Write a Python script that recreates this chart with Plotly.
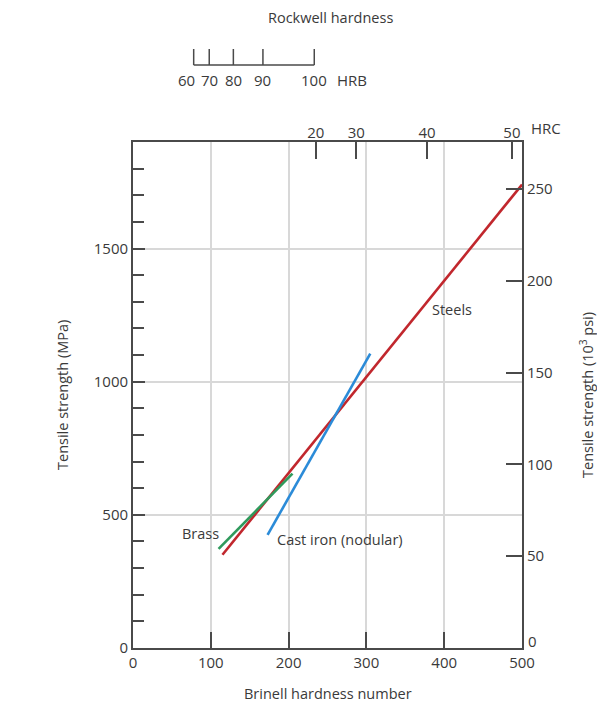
import plotly.graph_objects as go

# ---- data ----
steels_hb = [115, 500]
steels_mpa = [350, 1740]
cast_hb = [173, 305]
cast_mpa = [425, 1105]
brass_hb = [110, 205]
brass_mpa = [372, 655]

hrc_vals = [20, 30, 40, 50]
hrc_hb = [235, 287, 378, 487]
hrb_vals = [60, 70, 80, 90, 100]
hrb_hb = [78, 98, 129, 167, 233]

x_ticks = [0, 100, 200, 300, 400, 500]
mpa_ticks = [0, 500, 1000, 1500]
ksi_ticks = [0, 50, 100, 150, 200, 250]
MPA_MAX = 1900
MPA_PER_KSI = 6.895

FONT = "Open Sans"
TXT = "#3a3a3a"
AX = "#4a4a4a"
GRID = "#d8d8d8"
TICK_SIZE = 15
TITLE_SIZE = 14.5

# layout geometry (pixels)
PLOT_H = 718 - 10 - 70


def py(px_from_top):
    return (718 - 70 - px_from_top) / PLOT_H


def px_x(px):
    return (px - 133) / 389


fig = go.Figure()
fig.add_trace(go.Scatter(x=steels_hb, y=steels_mpa, mode="lines",
                         line=dict(color="#c1272d", width=2.6), showlegend=False, hoverinfo="skip"))
fig.add_trace(go.Scatter(x=brass_hb, y=brass_mpa, mode="lines",
                         line=dict(color="#2f9a5c", width=2.6), showlegend=False, hoverinfo="skip"))
fig.add_trace(go.Scatter(x=cast_hb, y=cast_mpa, mode="lines",
                         line=dict(color="#2b8bd8", width=2.6), showlegend=False, hoverinfo="skip"))
# dummy traces to activate secondary axes
fig.add_trace(go.Scatter(x=[None], y=[None], xaxis="x2", yaxis="y", showlegend=False, hoverinfo="skip"))
fig.add_trace(go.Scatter(x=[None], y=[None], xaxis="x", yaxis="y2", showlegend=False, hoverinfo="skip"))

# right-axis labels: the "0" is drawn separately, a little higher (as in the original)
ksi_text = ["" if v == 0 else str(v) for v in ksi_ticks]

fig.update_layout(
    width=597, height=718,
    margin=dict(l=133, r=75, t=10, b=70),
    paper_bgcolor="white", plot_bgcolor="white",
    font=dict(family=FONT, size=TICK_SIZE, color=TXT),
    xaxis=dict(domain=[0, 1], range=[0, 500], tickvals=x_ticks,
               showgrid=True, gridcolor=GRID, gridwidth=1.5,
               showline=True, linecolor=AX, linewidth=1.8, mirror=True,
               ticks="inside", ticklen=16, tickcolor=AX, tickwidth=1.5,
               zeroline=False, tickfont=dict(size=TICK_SIZE, color=TXT)),
    xaxis2=dict(overlaying="x", side="top", anchor="y", range=[0, 500],
                tickvals=hrc_hb, ticktext=[str(v) for v in hrc_vals],
                ticks="inside", ticklen=17, tickcolor=AX, tickwidth=1.8,
                showgrid=False, showline=False, zeroline=False,
                tickfont=dict(size=TICK_SIZE, color=TXT)),
    yaxis=dict(domain=[0, py(142)], range=[0, MPA_MAX], tickvals=mpa_ticks,
               showgrid=True, gridcolor=GRID, gridwidth=1.5,
               showline=True, linecolor=AX, linewidth=1.8,
               ticks="inside", ticklen=12, tickcolor=AX, tickwidth=1.5,
               minor=dict(dtick=100, ticks="inside", ticklen=11, tickcolor=AX, tickwidth=1.5, showgrid=False),
               zeroline=False, tickfont=dict(size=TICK_SIZE, color=TXT)),
    yaxis2=dict(overlaying="y", side="right", anchor="x", range=[0, MPA_MAX / MPA_PER_KSI],
                tickvals=ksi_ticks, ticktext=ksi_text, showgrid=False,
                showline=True, linecolor=AX, linewidth=1.8,
                ticks="inside", ticklen=16, tickcolor=AX, tickwidth=1.5,
                zeroline=False, tickfont=dict(size=TICK_SIZE, color=TXT)),
)

# ---- HRB scale (drawn with shapes on the Brinell x scale) ----
hrb_line_y = py(65)
hrb_tick_top = py(49)
shapes = [dict(type="line", xref="x", yref="paper", x0=hrb_hb[0], x1=hrb_hb[-1],
               y0=hrb_line_y, y1=hrb_line_y, line=dict(color=AX, width=1.5))]
for hb in hrb_hb:
    shapes.append(dict(type="line", xref="x", yref="paper", x0=hb, x1=hb,
                       y0=hrb_line_y, y1=hrb_tick_top, line=dict(color=AX, width=1.5)))
fig.update_layout(shapes=shapes)

C = dict(xanchor="center", yanchor="middle", showarrow=False)

ann = []
for i, (hb, v) in enumerate(zip(hrb_hb, hrb_vals)):
    ann.append(dict(text=str(v), xref="x", yref="paper", x=hb, y=py(80),
                    xshift=-7 if i == 0 else 0, font=dict(size=TICK_SIZE), **C))

ann += [
    dict(text="HRB", xref="paper", yref="paper", x=px_x(352), y=py(80), font=dict(size=TICK_SIZE), **C),
    dict(text="Rockwell hardness", xref="paper", yref="paper", x=px_x(330), y=py(18),
         font=dict(size=TITLE_SIZE), **C),
    dict(text="HRC", xref="paper", yref="paper", x=px_x(546), y=py(128), font=dict(size=TICK_SIZE), **C),
    dict(text=str(ksi_ticks[0]), xref="paper", yref="y2", x=px_x(532), y=ksi_ticks[0], yshift=7,
         font=dict(size=TICK_SIZE), **C),
    dict(text="Tensile strength (MPa)", xref="paper", yref="paper", x=px_x(62), y=py(395),
         textangle=-90, font=dict(size=TITLE_SIZE), **C),
    dict(text="Tensile strength (10<sup>3</sup> psi)", xref="paper", yref="paper", x=px_x(586),
         y=py(395), textangle=-90, font=dict(size=TITLE_SIZE), **C),
    dict(text="Brinell hardness number", xref="paper", yref="paper", x=px_x(328), y=py(693),
         font=dict(size=TITLE_SIZE), **C),
    dict(text="Steels", xref="x", yref="y", x=410, y=1271, font=dict(size=TITLE_SIZE), **C),
    dict(text="Brass", xref="x", yref="y", x=87, y=429, font=dict(size=TITLE_SIZE), **C),
    dict(text="Cast iron (nodular)", xref="x", yref="y", x=266, y=406, font=dict(size=TITLE_SIZE), **C),
]
fig.update_layout(annotations=ann)

fig.write_html("out.html")
